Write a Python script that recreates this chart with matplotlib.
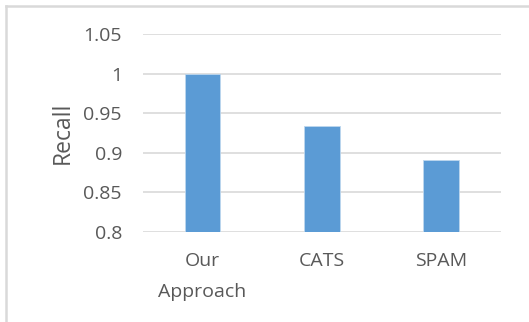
import matplotlib.pyplot as plt
from matplotlib.lines import Line2D

categories = ["Our\nApproach", "CATS", "SPAM"]
recall = [1.0, 0.934, 0.89]
yticks = [0.8, 0.85, 0.9, 0.95, 1.0, 1.05]
ytick_labels = ["0.8", "0.85", "0.9", "0.95", "1", "1.05"]

plt.rcParams['font.family'] = ['Open Sans', 'DejaVu Sans']
txt = "#595959"

fig = plt.figure(figsize=(5.29, 3.22), dpi=100)
# outer chart frame (left and top edges only visible)
fx, fy = 5.5 / 529, 1 - 5.5 / 322
fig.lines.append(Line2D([fx, fx], [0, fy], transform=fig.transFigure, color="#D9D9D9", lw=1.8))
fig.lines.append(Line2D([fx, 1], [fy, fy], transform=fig.transFigure, color="#D9D9D9", lw=1.8))
ax = fig.add_axes([0.270, 0.281, 0.677, 0.613])

x = range(len(categories))
ax.bar(x, recall, width=0.3, color="#5B9BD5", edgecolor="#BDD7EE", linewidth=0.6, zorder=3)
ax.set_ylim(0.8, 1.05)
ax.set_xlim(-0.5, 2.5)
ax.set_yticks(yticks)
ax.set_yticklabels(ytick_labels)
ax.set_xticks(list(x))
ax.set_xticklabels(categories, linespacing=1.9)
ax.grid(axis="y", color="#D9D9D9", linewidth=1.2, zorder=0)
for s in ax.spines.values():
    s.set_visible(False)
ax.tick_params(axis="both", length=0, labelsize=14, labelcolor=txt)
ax.tick_params(axis="y", pad=15)
ax.tick_params(axis="x", pad=15)
ax.set_ylabel("Recall", fontsize=16.5, color=txt, labelpad=6)

plt.savefig("out.png")
plt.close()
